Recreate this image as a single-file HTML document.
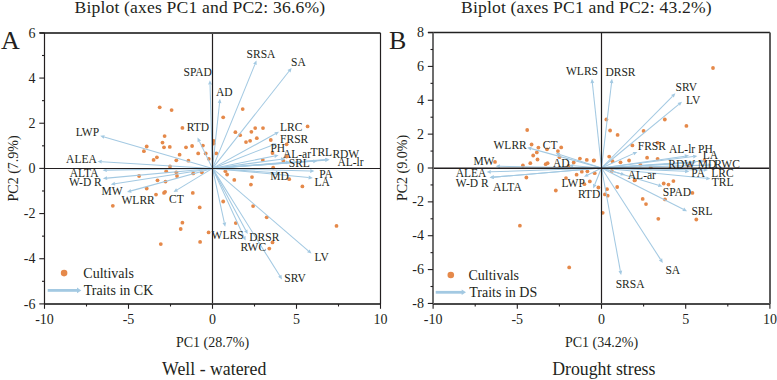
<!DOCTYPE html><html><head><meta charset="utf-8"><style>html,body{margin:0;padding:0;background:#fff;overflow:hidden}svg{display:block}</style></head><body><svg width="777" height="380" viewBox="0 0 777 380" font-family="Liberation Serif, serif" fill="#231f20"><rect width="777" height="380" fill="#fff"/><circle cx="159.7" cy="107.3" r="1.9" fill="#e5894a"/><circle cx="171.6" cy="110.1" r="1.9" fill="#e5894a"/><circle cx="182.4" cy="127.9" r="1.9" fill="#e5894a"/><circle cx="164.6" cy="136.1" r="1.9" fill="#e5894a"/><circle cx="162.5" cy="142.6" r="1.9" fill="#e5894a"/><circle cx="146.7" cy="146.5" r="1.9" fill="#e5894a"/><circle cx="164" cy="147.3" r="1.9" fill="#e5894a"/><circle cx="169.8" cy="146.9" r="1.9" fill="#e5894a"/><circle cx="143.9" cy="151.2" r="1.9" fill="#e5894a"/><circle cx="186" cy="147.3" r="1.9" fill="#e5894a"/><circle cx="192.1" cy="146" r="1.9" fill="#e5894a"/><circle cx="202.9" cy="145.6" r="1.9" fill="#e5894a"/><circle cx="198.2" cy="153.4" r="1.9" fill="#e5894a"/><circle cx="205.7" cy="153.4" r="1.9" fill="#e5894a"/><circle cx="208.8" cy="158.8" r="1.9" fill="#e5894a"/><circle cx="179.6" cy="154.7" r="1.9" fill="#e5894a"/><circle cx="156.9" cy="157.3" r="1.9" fill="#e5894a"/><circle cx="153.6" cy="159.9" r="1.9" fill="#e5894a"/><circle cx="176.3" cy="160.3" r="1.9" fill="#e5894a"/><circle cx="188.4" cy="160.7" r="1.9" fill="#e5894a"/><circle cx="170" cy="166.4" r="1.9" fill="#e5894a"/><circle cx="242.7" cy="109.1" r="1.9" fill="#e5894a"/><circle cx="223.2" cy="117.3" r="1.9" fill="#e5894a"/><circle cx="255.2" cy="128.1" r="1.9" fill="#e5894a"/><circle cx="263" cy="128.1" r="1.9" fill="#e5894a"/><circle cx="235.4" cy="132.2" r="1.9" fill="#e5894a"/><circle cx="251.4" cy="131.8" r="1.9" fill="#e5894a"/><circle cx="240.1" cy="135.2" r="1.9" fill="#e5894a"/><circle cx="256.8" cy="138.2" r="1.9" fill="#e5894a"/><circle cx="250.1" cy="140.8" r="1.9" fill="#e5894a"/><circle cx="246" cy="142.1" r="1.9" fill="#e5894a"/><circle cx="270.8" cy="140" r="1.9" fill="#e5894a"/><circle cx="286.6" cy="144.3" r="1.9" fill="#e5894a"/><circle cx="307.6" cy="126.4" r="1.9" fill="#e5894a"/><circle cx="213.7" cy="140.8" r="1.9" fill="#e5894a"/><circle cx="213.7" cy="143.6" r="1.9" fill="#e5894a"/><circle cx="216.3" cy="153.4" r="1.9" fill="#e5894a"/><circle cx="272.5" cy="153" r="1.9" fill="#e5894a"/><circle cx="262.8" cy="159.9" r="1.9" fill="#e5894a"/><circle cx="286.6" cy="156.6" r="1.9" fill="#e5894a"/><circle cx="283.4" cy="160.9" r="1.9" fill="#e5894a"/><circle cx="273.2" cy="167.6" r="1.9" fill="#e5894a"/><circle cx="225.4" cy="171.2" r="1.9" fill="#e5894a"/><circle cx="227.1" cy="174.5" r="1.9" fill="#e5894a"/><circle cx="234.3" cy="179.9" r="1.9" fill="#e5894a"/><circle cx="252" cy="177.1" r="1.9" fill="#e5894a"/><circle cx="250.9" cy="184.6" r="1.9" fill="#e5894a"/><circle cx="289.2" cy="179.2" r="1.9" fill="#e5894a"/><circle cx="302.4" cy="186.4" r="1.9" fill="#e5894a"/><circle cx="223.2" cy="201.5" r="1.9" fill="#e5894a"/><circle cx="253.1" cy="206.1" r="1.9" fill="#e5894a"/><circle cx="266.7" cy="217.3" r="1.9" fill="#e5894a"/><circle cx="235.8" cy="223.1" r="1.9" fill="#e5894a"/><circle cx="336.5" cy="225.9" r="1.9" fill="#e5894a"/><circle cx="272.5" cy="242.4" r="1.9" fill="#e5894a"/><circle cx="269.3" cy="248.6" r="1.9" fill="#e5894a"/><circle cx="166.2" cy="171.2" r="1.9" fill="#e5894a"/><circle cx="176.3" cy="172.3" r="1.9" fill="#e5894a"/><circle cx="193.2" cy="173.4" r="1.9" fill="#e5894a"/><circle cx="201.8" cy="172.3" r="1.9" fill="#e5894a"/><circle cx="139.1" cy="176" r="1.9" fill="#e5894a"/><circle cx="177" cy="176" r="1.9" fill="#e5894a"/><circle cx="157.5" cy="180.3" r="1.9" fill="#e5894a"/><circle cx="165.5" cy="181.6" r="1.9" fill="#e5894a"/><circle cx="146.7" cy="188.5" r="1.9" fill="#e5894a"/><circle cx="156" cy="194.6" r="1.9" fill="#e5894a"/><circle cx="164" cy="192.9" r="1.9" fill="#e5894a"/><circle cx="165.1" cy="191.8" r="1.9" fill="#e5894a"/><circle cx="192.8" cy="192.9" r="1.9" fill="#e5894a"/><circle cx="112.8" cy="205.8" r="1.9" fill="#e5894a"/><circle cx="199.7" cy="207.4" r="1.9" fill="#e5894a"/><circle cx="182.4" cy="222.7" r="1.9" fill="#e5894a"/><circle cx="180.7" cy="229" r="1.9" fill="#e5894a"/><circle cx="208.6" cy="232.4" r="1.9" fill="#e5894a"/><circle cx="160.8" cy="244.1" r="1.9" fill="#e5894a"/><circle cx="200.1" cy="241.9" r="1.9" fill="#e5894a"/><line x1="212.5" y1="168.4" x2="210.02" y2="84.5" stroke="#a3c9e2" stroke-width="1.05"/><path d="M209.9 80.3L211.92 84.44L208.12 84.55Z" fill="#a3c9e2"/><line x1="212.5" y1="168.4" x2="219.55" y2="102.98" stroke="#a3c9e2" stroke-width="1.05"/><path d="M220 98.8L221.44 103.18L217.66 102.77Z" fill="#a3c9e2"/><line x1="212.5" y1="168.4" x2="254.91" y2="64.39" stroke="#a3c9e2" stroke-width="1.05"/><path d="M256.5 60.5L256.67 65.11L253.15 63.67Z" fill="#a3c9e2"/><line x1="212.5" y1="168.4" x2="289" y2="71.3" stroke="#a3c9e2" stroke-width="1.05"/><path d="M291.6 68L290.49 72.47L287.51 70.12Z" fill="#a3c9e2"/><line x1="212.5" y1="168.4" x2="199.34" y2="141.38" stroke="#a3c9e2" stroke-width="1.05"/><path d="M197.5 137.6L201.05 140.54L197.63 142.21Z" fill="#a3c9e2"/><line x1="212.5" y1="168.4" x2="104.23" y2="136.97" stroke="#a3c9e2" stroke-width="1.05"/><path d="M100.2 135.8L104.76 135.15L103.7 138.8Z" fill="#a3c9e2"/><line x1="212.5" y1="168.4" x2="101.69" y2="161.66" stroke="#a3c9e2" stroke-width="1.05"/><path d="M97.5 161.4L101.81 159.76L101.58 163.55Z" fill="#a3c9e2"/><line x1="212.5" y1="168.4" x2="106.8" y2="170.13" stroke="#a3c9e2" stroke-width="1.05"/><path d="M102.6 170.2L106.77 168.23L106.83 172.03Z" fill="#a3c9e2"/><line x1="212.5" y1="168.4" x2="107.08" y2="178.11" stroke="#a3c9e2" stroke-width="1.05"/><path d="M102.9 178.5L106.91 176.22L107.26 180.01Z" fill="#a3c9e2"/><line x1="212.5" y1="168.4" x2="114.95" y2="183.75" stroke="#a3c9e2" stroke-width="1.05"/><path d="M110.8 184.4L114.65 181.87L115.24 185.62Z" fill="#a3c9e2"/><line x1="212.5" y1="168.4" x2="131.05" y2="190.88" stroke="#a3c9e2" stroke-width="1.05"/><path d="M127 192L130.54 189.05L131.55 192.71Z" fill="#a3c9e2"/><line x1="212.5" y1="168.4" x2="177.09" y2="189.83" stroke="#a3c9e2" stroke-width="1.05"/><path d="M173.5 192L176.11 188.2L178.08 191.45Z" fill="#a3c9e2"/><line x1="212.5" y1="168.4" x2="275.32" y2="133.83" stroke="#a3c9e2" stroke-width="1.05"/><path d="M279 131.8L276.24 135.49L274.4 132.16Z" fill="#a3c9e2"/><line x1="212.5" y1="168.4" x2="272.78" y2="145.02" stroke="#a3c9e2" stroke-width="1.05"/><path d="M276.7 143.5L273.47 146.79L272.1 143.25Z" fill="#a3c9e2"/><line x1="212.5" y1="168.4" x2="274.48" y2="156.02" stroke="#a3c9e2" stroke-width="1.05"/><path d="M278.6 155.2L274.85 157.89L274.11 154.16Z" fill="#a3c9e2"/><line x1="212.5" y1="168.4" x2="281.14" y2="159.25" stroke="#a3c9e2" stroke-width="1.05"/><path d="M285.3 158.7L281.39 161.14L280.89 157.37Z" fill="#a3c9e2"/><line x1="212.5" y1="168.4" x2="285.81" y2="162.35" stroke="#a3c9e2" stroke-width="1.05"/><path d="M290 162L285.97 164.24L285.66 160.45Z" fill="#a3c9e2"/><line x1="212.5" y1="168.4" x2="313.21" y2="161.3" stroke="#a3c9e2" stroke-width="1.05"/><path d="M317.4 161L313.34 163.19L313.08 159.4Z" fill="#a3c9e2"/><line x1="212.5" y1="168.4" x2="325.31" y2="159.63" stroke="#a3c9e2" stroke-width="1.05"/><path d="M329.5 159.3L325.46 161.52L325.17 157.73Z" fill="#a3c9e2"/><line x1="212.5" y1="168.4" x2="325.31" y2="160.11" stroke="#a3c9e2" stroke-width="1.05"/><path d="M329.5 159.8L325.45 162L325.17 158.21Z" fill="#a3c9e2"/><line x1="212.5" y1="168.4" x2="310.2" y2="170.99" stroke="#a3c9e2" stroke-width="1.05"/><path d="M314.4 171.1L310.15 172.89L310.25 169.09Z" fill="#a3c9e2"/><line x1="212.5" y1="168.4" x2="275.81" y2="172.71" stroke="#a3c9e2" stroke-width="1.05"/><path d="M280 173L275.68 174.61L275.94 170.82Z" fill="#a3c9e2"/><line x1="212.5" y1="168.4" x2="308.62" y2="177.5" stroke="#a3c9e2" stroke-width="1.05"/><path d="M312.8 177.9L308.44 179.4L308.8 175.61Z" fill="#a3c9e2"/><line x1="212.5" y1="168.4" x2="224.31" y2="222.6" stroke="#a3c9e2" stroke-width="1.05"/><path d="M225.2 226.7L222.45 223L226.16 222.19Z" fill="#a3c9e2"/><line x1="212.5" y1="168.4" x2="245.71" y2="230.3" stroke="#a3c9e2" stroke-width="1.05"/><path d="M247.7 234L244.04 231.2L247.39 229.4Z" fill="#a3c9e2"/><line x1="212.5" y1="168.4" x2="243.85" y2="236.68" stroke="#a3c9e2" stroke-width="1.05"/><path d="M245.6 240.5L242.12 237.48L245.57 235.89Z" fill="#a3c9e2"/><line x1="212.5" y1="168.4" x2="308.32" y2="250.86" stroke="#a3c9e2" stroke-width="1.05"/><path d="M311.5 253.6L307.08 252.3L309.56 249.42Z" fill="#a3c9e2"/><line x1="212.5" y1="168.4" x2="279.77" y2="275.84" stroke="#a3c9e2" stroke-width="1.05"/><path d="M282 279.4L278.16 276.85L281.38 274.83Z" fill="#a3c9e2"/><line x1="212.5" y1="33" x2="212.5" y2="304" stroke="#231f20" stroke-width="1.2"/><line x1="44.5" y1="168.5" x2="380.5" y2="168.5" stroke="#231f20" stroke-width="1.2"/><line x1="39.5" y1="33" x2="380.5" y2="33" stroke="#4a4a4a" stroke-width="1.8"/><line x1="44.5" y1="304" x2="380.5" y2="304" stroke="#4a4a4a" stroke-width="1.8"/><line x1="44.5" y1="33" x2="44.5" y2="304" stroke="#231f20" stroke-width="1.2"/><line x1="380.5" y1="33" x2="380.5" y2="304" stroke="#231f20" stroke-width="1.2"/><line x1="44.5" y1="304" x2="44.5" y2="308.8" stroke="#231f20" stroke-width="1.1"/><text x="44.5" y="323.8" font-size="14" text-anchor="middle" >-10</text><line x1="86.5" y1="304" x2="86.5" y2="306.5" stroke="#231f20" stroke-width="1.1"/><line x1="128.5" y1="304" x2="128.5" y2="308.8" stroke="#231f20" stroke-width="1.1"/><text x="128.5" y="323.8" font-size="14" text-anchor="middle" >-5</text><line x1="170.5" y1="304" x2="170.5" y2="306.5" stroke="#231f20" stroke-width="1.1"/><line x1="212.5" y1="304" x2="212.5" y2="308.8" stroke="#231f20" stroke-width="1.1"/><text x="212.5" y="323.8" font-size="14" text-anchor="middle" >0</text><line x1="254.5" y1="304" x2="254.5" y2="306.5" stroke="#231f20" stroke-width="1.1"/><line x1="296.5" y1="304" x2="296.5" y2="308.8" stroke="#231f20" stroke-width="1.1"/><text x="296.5" y="323.8" font-size="14" text-anchor="middle" >5</text><line x1="338.5" y1="304" x2="338.5" y2="306.5" stroke="#231f20" stroke-width="1.1"/><line x1="380.5" y1="304" x2="380.5" y2="308.8" stroke="#231f20" stroke-width="1.1"/><text x="380.5" y="323.8" font-size="14" text-anchor="middle" >10</text><line x1="44.5" y1="303.9" x2="39.3" y2="303.9" stroke="#231f20" stroke-width="1.1"/><text x="35.5" y="308.5" font-size="14" text-anchor="end" >-6</text><line x1="44.5" y1="281.31" x2="42" y2="281.31" stroke="#231f20" stroke-width="1.1"/><line x1="44.5" y1="258.73" x2="39.3" y2="258.73" stroke="#231f20" stroke-width="1.1"/><text x="35.5" y="263.33" font-size="14" text-anchor="end" >-4</text><line x1="44.5" y1="236.15" x2="42" y2="236.15" stroke="#231f20" stroke-width="1.1"/><line x1="44.5" y1="213.57" x2="39.3" y2="213.57" stroke="#231f20" stroke-width="1.1"/><text x="35.5" y="218.17" font-size="14" text-anchor="end" >-2</text><line x1="44.5" y1="190.98" x2="42" y2="190.98" stroke="#231f20" stroke-width="1.1"/><line x1="44.5" y1="168.4" x2="39.3" y2="168.4" stroke="#231f20" stroke-width="1.1"/><text x="35.5" y="173" font-size="14" text-anchor="end" >0</text><line x1="44.5" y1="145.82" x2="42" y2="145.82" stroke="#231f20" stroke-width="1.1"/><line x1="44.5" y1="123.23" x2="39.3" y2="123.23" stroke="#231f20" stroke-width="1.1"/><text x="35.5" y="127.83" font-size="14" text-anchor="end" >2</text><line x1="44.5" y1="100.65" x2="42" y2="100.65" stroke="#231f20" stroke-width="1.1"/><line x1="44.5" y1="78.07" x2="39.3" y2="78.07" stroke="#231f20" stroke-width="1.1"/><text x="35.5" y="82.67" font-size="14" text-anchor="end" >4</text><line x1="44.5" y1="55.49" x2="42" y2="55.49" stroke="#231f20" stroke-width="1.1"/><line x1="44.5" y1="32.9" x2="39.3" y2="32.9" stroke="#231f20" stroke-width="1.1"/><text x="35.5" y="37.5" font-size="14" text-anchor="end" >6</text><text x="183.5" y="75.9" font-size="11.5" text-anchor="start" >SPAD</text><text x="216" y="95.7" font-size="11.5" text-anchor="start" >AD</text><text x="246.6" y="57.7" font-size="11.5" text-anchor="start" >SRSA</text><text x="291.1" y="65.6" font-size="11.5" text-anchor="start" >SA</text><text x="186.7" y="131.3" font-size="11.5" text-anchor="start" >RTD</text><text x="75.7" y="136" font-size="11.5" text-anchor="start" >LWP</text><text x="66.1" y="163" font-size="11.5" text-anchor="start" >ALEA</text><text x="69.8" y="176.8" font-size="11.5" text-anchor="start" >ALTA</text><text x="68.9" y="186" font-size="11.5" text-anchor="start" >W-D R</text><text x="101.5" y="195.2" font-size="11.5" text-anchor="start" >MW</text><text x="121.5" y="204" font-size="11.5" text-anchor="start" >WLRR</text><text x="169" y="203" font-size="11.5" text-anchor="start" >CT</text><text x="280.1" y="131.1" font-size="11.5" text-anchor="start" >LRC</text><text x="280.1" y="142.6" font-size="11.5" text-anchor="start" >FRSR</text><text x="270.4" y="152.3" font-size="11.5" text-anchor="start" >PH</text><text x="282.9" y="158.4" font-size="11.5" text-anchor="start" >AL-ar</text><text x="310.4" y="156" font-size="11.5" text-anchor="start" >TRL</text><text x="332.4" y="158.1" font-size="11.5" text-anchor="start" >RDW</text><text x="337.4" y="166.4" font-size="11.5" text-anchor="start" >AL-lr</text><text x="288.8" y="167" font-size="11.5" text-anchor="start" >SRL</text><text x="319.2" y="177.7" font-size="11.5" text-anchor="start" >PA</text><text x="270.3" y="179.7" font-size="11.5" text-anchor="start" >MD</text><text x="314.5" y="185.6" font-size="11.5" text-anchor="start" >LA</text><text x="211.6" y="238.9" font-size="11.5" text-anchor="start" >WLRS</text><text x="249.3" y="240.6" font-size="11.5" text-anchor="start" >DRSR</text><text x="240.5" y="251.3" font-size="11.5" text-anchor="start" >RWC</text><text x="314.6" y="260.8" font-size="11.5" text-anchor="start" >LV</text><text x="284.3" y="281.8" font-size="11.5" text-anchor="start" >SRV</text><text x="74.5" y="12.9" font-size="17.6" text-anchor="start" letter-spacing="0.17">Biplot (axes PC1 and PC2: 36.6%)</text><text x="1" y="48.7" font-size="26" text-anchor="start" >A</text><text x="18" y="168.4" font-size="14" text-anchor="middle" transform="rotate(-90 18 168.4)">PC2 (7.9%)</text><text x="212.5" y="346.7" font-size="14" text-anchor="middle" >PC1 (28.7%)</text><text x="214.2" y="374.7" font-size="17.8" text-anchor="middle" >Well - watered</text><circle cx="527.2" cy="130" r="1.9" fill="#e5894a"/><circle cx="531.6" cy="144.5" r="1.9" fill="#e5894a"/><circle cx="538.4" cy="147.6" r="1.9" fill="#e5894a"/><circle cx="547" cy="149.3" r="1.9" fill="#e5894a"/><circle cx="536.8" cy="152.4" r="1.9" fill="#e5894a"/><circle cx="533.2" cy="155.5" r="1.9" fill="#e5894a"/><circle cx="537.5" cy="159.5" r="1.9" fill="#e5894a"/><circle cx="530.3" cy="163.2" r="1.9" fill="#e5894a"/><circle cx="545.7" cy="164.2" r="1.9" fill="#e5894a"/><circle cx="547.6" cy="163.2" r="1.9" fill="#e5894a"/><circle cx="522.9" cy="165.5" r="1.9" fill="#e5894a"/><circle cx="561.2" cy="147.4" r="1.9" fill="#e5894a"/><circle cx="557.9" cy="151.1" r="1.9" fill="#e5894a"/><circle cx="559.5" cy="157.2" r="1.9" fill="#e5894a"/><circle cx="579.9" cy="158.6" r="1.9" fill="#e5894a"/><circle cx="586.8" cy="159.9" r="1.9" fill="#e5894a"/><circle cx="594" cy="160.3" r="1.9" fill="#e5894a"/><circle cx="573.7" cy="162.5" r="1.9" fill="#e5894a"/><circle cx="568.7" cy="165.8" r="1.9" fill="#e5894a"/><circle cx="610.1" cy="130.5" r="1.9" fill="#e5894a"/><circle cx="617.6" cy="134.9" r="1.9" fill="#e5894a"/><circle cx="609.2" cy="156.6" r="1.9" fill="#e5894a"/><circle cx="612.5" cy="161.2" r="1.9" fill="#e5894a"/><circle cx="581.8" cy="171.7" r="1.9" fill="#e5894a"/><circle cx="587.4" cy="171.3" r="1.9" fill="#e5894a"/><circle cx="576.6" cy="174.7" r="1.9" fill="#e5894a"/><circle cx="495" cy="161.9" r="1.9" fill="#e5894a"/><circle cx="526.4" cy="177.5" r="1.9" fill="#e5894a"/><circle cx="566" cy="178.1" r="1.9" fill="#e5894a"/><circle cx="589.8" cy="181.4" r="1.9" fill="#e5894a"/><circle cx="555.8" cy="190.5" r="1.9" fill="#e5894a"/><circle cx="598.4" cy="187.5" r="1.9" fill="#e5894a"/><circle cx="594.7" cy="173.2" r="1.9" fill="#e5894a"/><circle cx="606.4" cy="119.5" r="1.9" fill="#e5894a"/><circle cx="664.8" cy="119.5" r="1.9" fill="#e5894a"/><circle cx="686.4" cy="125.9" r="1.9" fill="#e5894a"/><circle cx="643.6" cy="130.9" r="1.9" fill="#e5894a"/><circle cx="632.4" cy="145.4" r="1.9" fill="#e5894a"/><circle cx="657.6" cy="142.8" r="1.9" fill="#e5894a"/><circle cx="620.5" cy="162.3" r="1.9" fill="#e5894a"/><circle cx="629.1" cy="160.5" r="1.9" fill="#e5894a"/><circle cx="647.1" cy="157.7" r="1.9" fill="#e5894a"/><circle cx="657.6" cy="158.8" r="1.9" fill="#e5894a"/><circle cx="640.4" cy="164.9" r="1.9" fill="#e5894a"/><circle cx="650.7" cy="167.5" r="1.9" fill="#e5894a"/><circle cx="634.5" cy="180.4" r="1.9" fill="#e5894a"/><circle cx="673.4" cy="181.1" r="1.9" fill="#e5894a"/><circle cx="611.8" cy="170.9" r="1.9" fill="#e5894a"/><circle cx="663.7" cy="183.5" r="1.9" fill="#e5894a"/><circle cx="668.5" cy="184.6" r="1.9" fill="#e5894a"/><circle cx="519.9" cy="225.7" r="1.9" fill="#e5894a"/><circle cx="584.4" cy="184.2" r="1.9" fill="#e5894a"/><circle cx="692.4" cy="192.9" r="1.9" fill="#e5894a"/><circle cx="665" cy="199.4" r="1.9" fill="#e5894a"/><circle cx="642.7" cy="198.9" r="1.9" fill="#e5894a"/><circle cx="646" cy="204.1" r="1.9" fill="#e5894a"/><circle cx="658.3" cy="218.8" r="1.9" fill="#e5894a"/><circle cx="696.3" cy="219.5" r="1.9" fill="#e5894a"/><circle cx="617.2" cy="187" r="1.9" fill="#e5894a"/><circle cx="607" cy="189.2" r="1.9" fill="#e5894a"/><circle cx="604.9" cy="194.4" r="1.9" fill="#e5894a"/><circle cx="607.7" cy="195.7" r="1.9" fill="#e5894a"/><circle cx="602.7" cy="212.8" r="1.9" fill="#e5894a"/><circle cx="635.1" cy="179.9" r="1.9" fill="#e5894a"/><circle cx="569.2" cy="267.4" r="1.9" fill="#e5894a"/><circle cx="713" cy="68" r="1.9" fill="#e5894a"/><circle cx="593.7" cy="160.7" r="1.9" fill="#e5894a"/><circle cx="704.4" cy="160.6" r="1.9" fill="#e5894a"/><circle cx="689.3" cy="165.2" r="1.9" fill="#e5894a"/><line x1="601.5" y1="168" x2="592.35" y2="82.98" stroke="#a3c9e2" stroke-width="1.05"/><path d="M591.9 78.8L594.24 82.77L590.46 83.18Z" fill="#a3c9e2"/><line x1="601.5" y1="168" x2="611.51" y2="82.97" stroke="#a3c9e2" stroke-width="1.05"/><path d="M612 78.8L613.4 83.19L609.62 82.75Z" fill="#a3c9e2"/><line x1="601.5" y1="168" x2="672.45" y2="96.29" stroke="#a3c9e2" stroke-width="1.05"/><path d="M675.4 93.3L673.8 97.62L671.1 94.95Z" fill="#a3c9e2"/><line x1="601.5" y1="168" x2="678.76" y2="104.37" stroke="#a3c9e2" stroke-width="1.05"/><path d="M682 101.7L679.97 105.84L677.55 102.9Z" fill="#a3c9e2"/><line x1="601.5" y1="168" x2="531.25" y2="148.62" stroke="#a3c9e2" stroke-width="1.05"/><path d="M527.2 147.5L531.75 146.79L530.74 150.45Z" fill="#a3c9e2"/><line x1="601.5" y1="168" x2="559.6" y2="154.58" stroke="#a3c9e2" stroke-width="1.05"/><path d="M555.6 153.3L560.18 152.77L559.02 156.39Z" fill="#a3c9e2"/><line x1="601.5" y1="168" x2="499.9" y2="166.27" stroke="#a3c9e2" stroke-width="1.05"/><path d="M495.7 166.2L499.93 164.37L499.87 168.17Z" fill="#a3c9e2"/><line x1="601.5" y1="168" x2="573.19" y2="165.82" stroke="#a3c9e2" stroke-width="1.05"/><path d="M569 165.5L573.33 163.93L573.04 167.72Z" fill="#a3c9e2"/><line x1="601.5" y1="168" x2="490.8" y2="171.85" stroke="#a3c9e2" stroke-width="1.05"/><path d="M486.6 172L490.73 169.96L490.86 173.75Z" fill="#a3c9e2"/><line x1="601.5" y1="168" x2="493.78" y2="177.14" stroke="#a3c9e2" stroke-width="1.05"/><path d="M489.6 177.5L493.62 175.25L493.95 179.04Z" fill="#a3c9e2"/><line x1="601.5" y1="168" x2="493.78" y2="177.14" stroke="#a3c9e2" stroke-width="1.05"/><path d="M489.6 177.5L493.62 175.25L493.95 179.04Z" fill="#a3c9e2"/><line x1="601.5" y1="168" x2="587.75" y2="174.91" stroke="#a3c9e2" stroke-width="1.05"/><path d="M584 176.8L586.9 173.22L588.61 176.61Z" fill="#a3c9e2"/><line x1="601.5" y1="168" x2="594.78" y2="184.51" stroke="#a3c9e2" stroke-width="1.05"/><path d="M593.2 188.4L593.02 183.79L596.54 185.23Z" fill="#a3c9e2"/><line x1="601.5" y1="168" x2="633.47" y2="153.62" stroke="#a3c9e2" stroke-width="1.05"/><path d="M637.3 151.9L634.25 155.36L632.69 151.89Z" fill="#a3c9e2"/><line x1="601.5" y1="168" x2="684.84" y2="156.19" stroke="#a3c9e2" stroke-width="1.05"/><path d="M689 155.6L685.11 158.07L684.57 154.31Z" fill="#a3c9e2"/><line x1="601.5" y1="168" x2="693.23" y2="156.52" stroke="#a3c9e2" stroke-width="1.05"/><path d="M697.4 156L693.47 158.41L693 154.64Z" fill="#a3c9e2"/><line x1="601.5" y1="168" x2="700.81" y2="161.28" stroke="#a3c9e2" stroke-width="1.05"/><path d="M705 161L700.94 163.18L700.68 159.39Z" fill="#a3c9e2"/><line x1="601.5" y1="168" x2="684.81" y2="163.24" stroke="#a3c9e2" stroke-width="1.05"/><path d="M689 163L684.92 165.14L684.7 161.34Z" fill="#a3c9e2"/><line x1="601.5" y1="168" x2="691.81" y2="162.74" stroke="#a3c9e2" stroke-width="1.05"/><path d="M696 162.5L691.92 164.64L691.7 160.85Z" fill="#a3c9e2"/><line x1="601.5" y1="168" x2="707.8" y2="165.11" stroke="#a3c9e2" stroke-width="1.05"/><path d="M712 165L707.85 167.01L707.75 163.21Z" fill="#a3c9e2"/><line x1="601.5" y1="168" x2="685.1" y2="171.24" stroke="#a3c9e2" stroke-width="1.05"/><path d="M689.3 171.4L685.03 173.14L685.18 169.34Z" fill="#a3c9e2"/><line x1="601.5" y1="168" x2="703.8" y2="169.92" stroke="#a3c9e2" stroke-width="1.05"/><path d="M708 170L703.77 171.82L703.84 168.02Z" fill="#a3c9e2"/><line x1="601.5" y1="168" x2="706.32" y2="178.29" stroke="#a3c9e2" stroke-width="1.05"/><path d="M710.5 178.7L706.13 180.18L706.51 176.4Z" fill="#a3c9e2"/><line x1="601.5" y1="168" x2="620.97" y2="173.8" stroke="#a3c9e2" stroke-width="1.05"/><path d="M625 175L620.43 175.62L621.52 171.98Z" fill="#a3c9e2"/><line x1="601.5" y1="168" x2="658.48" y2="185.19" stroke="#a3c9e2" stroke-width="1.05"/><path d="M662.5 186.4L657.93 187.01L659.03 183.37Z" fill="#a3c9e2"/><line x1="601.5" y1="168" x2="683.25" y2="209.31" stroke="#a3c9e2" stroke-width="1.05"/><path d="M687 211.2L682.39 211L684.11 207.61Z" fill="#a3c9e2"/><line x1="601.5" y1="168" x2="620.34" y2="270.87" stroke="#a3c9e2" stroke-width="1.05"/><path d="M621.1 275L618.47 271.21L622.21 270.53Z" fill="#a3c9e2"/><line x1="601.5" y1="168" x2="660.52" y2="259.37" stroke="#a3c9e2" stroke-width="1.05"/><path d="M662.8 262.9L658.93 260.4L662.12 258.34Z" fill="#a3c9e2"/><line x1="601.5" y1="32.5" x2="601.5" y2="304" stroke="#231f20" stroke-width="1.2"/><line x1="433" y1="168.3" x2="770" y2="168.3" stroke="#231f20" stroke-width="1.5"/><line x1="428" y1="32.5" x2="770" y2="32.5" stroke="#222" stroke-width="1.3"/><line x1="433" y1="304" x2="770" y2="304" stroke="#4a4a4a" stroke-width="1.8"/><line x1="433" y1="32.5" x2="433" y2="304" stroke="#666" stroke-width="1.9"/><line x1="770" y1="32.5" x2="770" y2="304" stroke="#555" stroke-width="1.9"/><line x1="433.1" y1="304" x2="433.1" y2="308.8" stroke="#231f20" stroke-width="1.1"/><text x="433.1" y="323.8" font-size="14" text-anchor="middle" >-10</text><line x1="475.2" y1="304" x2="475.2" y2="306.5" stroke="#231f20" stroke-width="1.1"/><line x1="517.3" y1="304" x2="517.3" y2="308.8" stroke="#231f20" stroke-width="1.1"/><text x="517.3" y="323.8" font-size="14" text-anchor="middle" >-5</text><line x1="559.4" y1="304" x2="559.4" y2="306.5" stroke="#231f20" stroke-width="1.1"/><line x1="601.5" y1="304" x2="601.5" y2="308.8" stroke="#231f20" stroke-width="1.1"/><text x="601.5" y="323.8" font-size="14" text-anchor="middle" >0</text><line x1="643.6" y1="304" x2="643.6" y2="306.5" stroke="#231f20" stroke-width="1.1"/><line x1="685.7" y1="304" x2="685.7" y2="308.8" stroke="#231f20" stroke-width="1.1"/><text x="685.7" y="323.8" font-size="14" text-anchor="middle" >5</text><line x1="727.8" y1="304" x2="727.8" y2="306.5" stroke="#231f20" stroke-width="1.1"/><line x1="769.9" y1="304" x2="769.9" y2="308.8" stroke="#231f20" stroke-width="1.1"/><text x="769.9" y="323.8" font-size="14" text-anchor="middle" >10</text><line x1="433" y1="303.44" x2="427.8" y2="303.44" stroke="#231f20" stroke-width="1.1"/><text x="424" y="308.04" font-size="14" text-anchor="end" >-8</text><line x1="433" y1="286.51" x2="430.5" y2="286.51" stroke="#231f20" stroke-width="1.1"/><line x1="433" y1="269.58" x2="427.8" y2="269.58" stroke="#231f20" stroke-width="1.1"/><text x="424" y="274.18" font-size="14" text-anchor="end" >-6</text><line x1="433" y1="252.65" x2="430.5" y2="252.65" stroke="#231f20" stroke-width="1.1"/><line x1="433" y1="235.72" x2="427.8" y2="235.72" stroke="#231f20" stroke-width="1.1"/><text x="424" y="240.32" font-size="14" text-anchor="end" >-4</text><line x1="433" y1="218.79" x2="430.5" y2="218.79" stroke="#231f20" stroke-width="1.1"/><line x1="433" y1="201.86" x2="427.8" y2="201.86" stroke="#231f20" stroke-width="1.1"/><text x="424" y="206.46" font-size="14" text-anchor="end" >-2</text><line x1="433" y1="184.93" x2="430.5" y2="184.93" stroke="#231f20" stroke-width="1.1"/><line x1="433" y1="168" x2="427.8" y2="168" stroke="#231f20" stroke-width="1.1"/><text x="424" y="172.6" font-size="14" text-anchor="end" >0</text><line x1="433" y1="151.07" x2="430.5" y2="151.07" stroke="#231f20" stroke-width="1.1"/><line x1="433" y1="134.14" x2="427.8" y2="134.14" stroke="#231f20" stroke-width="1.1"/><text x="424" y="138.74" font-size="14" text-anchor="end" >2</text><line x1="433" y1="117.21" x2="430.5" y2="117.21" stroke="#231f20" stroke-width="1.1"/><line x1="433" y1="100.28" x2="427.8" y2="100.28" stroke="#231f20" stroke-width="1.1"/><text x="424" y="104.88" font-size="14" text-anchor="end" >4</text><line x1="433" y1="83.35" x2="430.5" y2="83.35" stroke="#231f20" stroke-width="1.1"/><line x1="433" y1="66.42" x2="427.8" y2="66.42" stroke="#231f20" stroke-width="1.1"/><text x="424" y="71.02" font-size="14" text-anchor="end" >6</text><line x1="433" y1="49.49" x2="430.5" y2="49.49" stroke="#231f20" stroke-width="1.1"/><line x1="433" y1="32.56" x2="427.8" y2="32.56" stroke="#231f20" stroke-width="1.1"/><text x="424" y="37.16" font-size="14" text-anchor="end" >8</text><text x="566" y="75.2" font-size="11.5" text-anchor="start" >WLRS</text><text x="605.5" y="75.8" font-size="11.5" text-anchor="start" >DRSR</text><text x="675.5" y="91" font-size="11.5" text-anchor="start" >SRV</text><text x="686.1" y="104" font-size="11.5" text-anchor="start" >LV</text><text x="493.5" y="148.5" font-size="11.5" text-anchor="start" >WLRR</text><text x="542.8" y="148.5" font-size="11.5" text-anchor="start" >CT</text><text x="473.4" y="165.1" font-size="11.5" text-anchor="start" >MW</text><text x="553" y="166.6" font-size="11.5" text-anchor="start" >AD</text><text x="455.7" y="176.6" font-size="11.5" text-anchor="start" >ALEA</text><text x="455.7" y="187.2" font-size="11.5" text-anchor="start" >W-D R</text><text x="493.1" y="191.2" font-size="11.5" text-anchor="start" >ALTA</text><text x="561.4" y="186.9" font-size="11.5" text-anchor="start" >LWP</text><text x="577.9" y="197.8" font-size="11.5" text-anchor="start" >RTD</text><text x="637.8" y="149.7" font-size="11.5" text-anchor="start" >FRSR</text><text x="669" y="152.8" font-size="11.5" text-anchor="start" >AL-lr</text><text x="698" y="152.8" font-size="11.5" text-anchor="start" >PH</text><text x="702.8" y="159" font-size="11.5" text-anchor="start" >LA</text><text x="668.3" y="167.6" font-size="11.5" text-anchor="start" >RDW</text><text x="697.8" y="167.5" font-size="11.5" text-anchor="start" >MD</text><text x="714.3" y="168.3" font-size="11.5" text-anchor="start" >RWC</text><text x="691.3" y="176.7" font-size="11.5" text-anchor="start" >PA</text><text x="711.2" y="176.6" font-size="11.5" text-anchor="start" >LRC</text><text x="711.8" y="186.2" font-size="11.5" text-anchor="start" >TRL</text><text x="627.8" y="179.2" font-size="11.5" text-anchor="start" >AL-ar</text><text x="662.8" y="195.5" font-size="11.5" text-anchor="start" >SPAD</text><text x="691.4" y="215.1" font-size="11.5" text-anchor="start" >SRL</text><text x="615.7" y="288" font-size="11.5" text-anchor="start" >SRSA</text><text x="665.4" y="274.3" font-size="11.5" text-anchor="start" >SA</text><text x="461" y="12.9" font-size="17.6" text-anchor="start" letter-spacing="0.17">Biplot (axes PC1 and PC2: 43.2%)</text><text x="389" y="48.7" font-size="26" text-anchor="start" >B</text><text x="406.6" y="168" font-size="14" text-anchor="middle" transform="rotate(-90 406.6 168)">PC2 (9.0%)</text><text x="601.5" y="346.7" font-size="14" text-anchor="middle" >PC1 (34.2%)</text><text x="603.8" y="374.7" font-size="17.8" text-anchor="middle" >Drought stress</text><circle cx="64.1" cy="273.1" r="3.3" fill="#e5894a"/><text x="83.3" y="278" font-size="14" text-anchor="start" >Cultivals</text><line x1="47.7" y1="290.4" x2="77.5" y2="290.4" stroke="#a3c9e2" stroke-width="2.8"/><path d="M81.3 290.4L77 287.6L77 293.2Z" fill="#a3c9e2"/><text x="83.8" y="295.3" font-size="14" text-anchor="start" >Traits in CK</text><circle cx="450.8" cy="275" r="3.3" fill="#e5894a"/><text x="468.5" y="279.7" font-size="14" text-anchor="start" >Cultivals</text><line x1="435.7" y1="292.3" x2="462" y2="292.3" stroke="#a3c9e2" stroke-width="2.8"/><path d="M466 292.3L461.7 289.5L461.7 295.1Z" fill="#a3c9e2"/><text x="469.3" y="297" font-size="14" text-anchor="start" >Traits in DS</text></svg></body></html>
